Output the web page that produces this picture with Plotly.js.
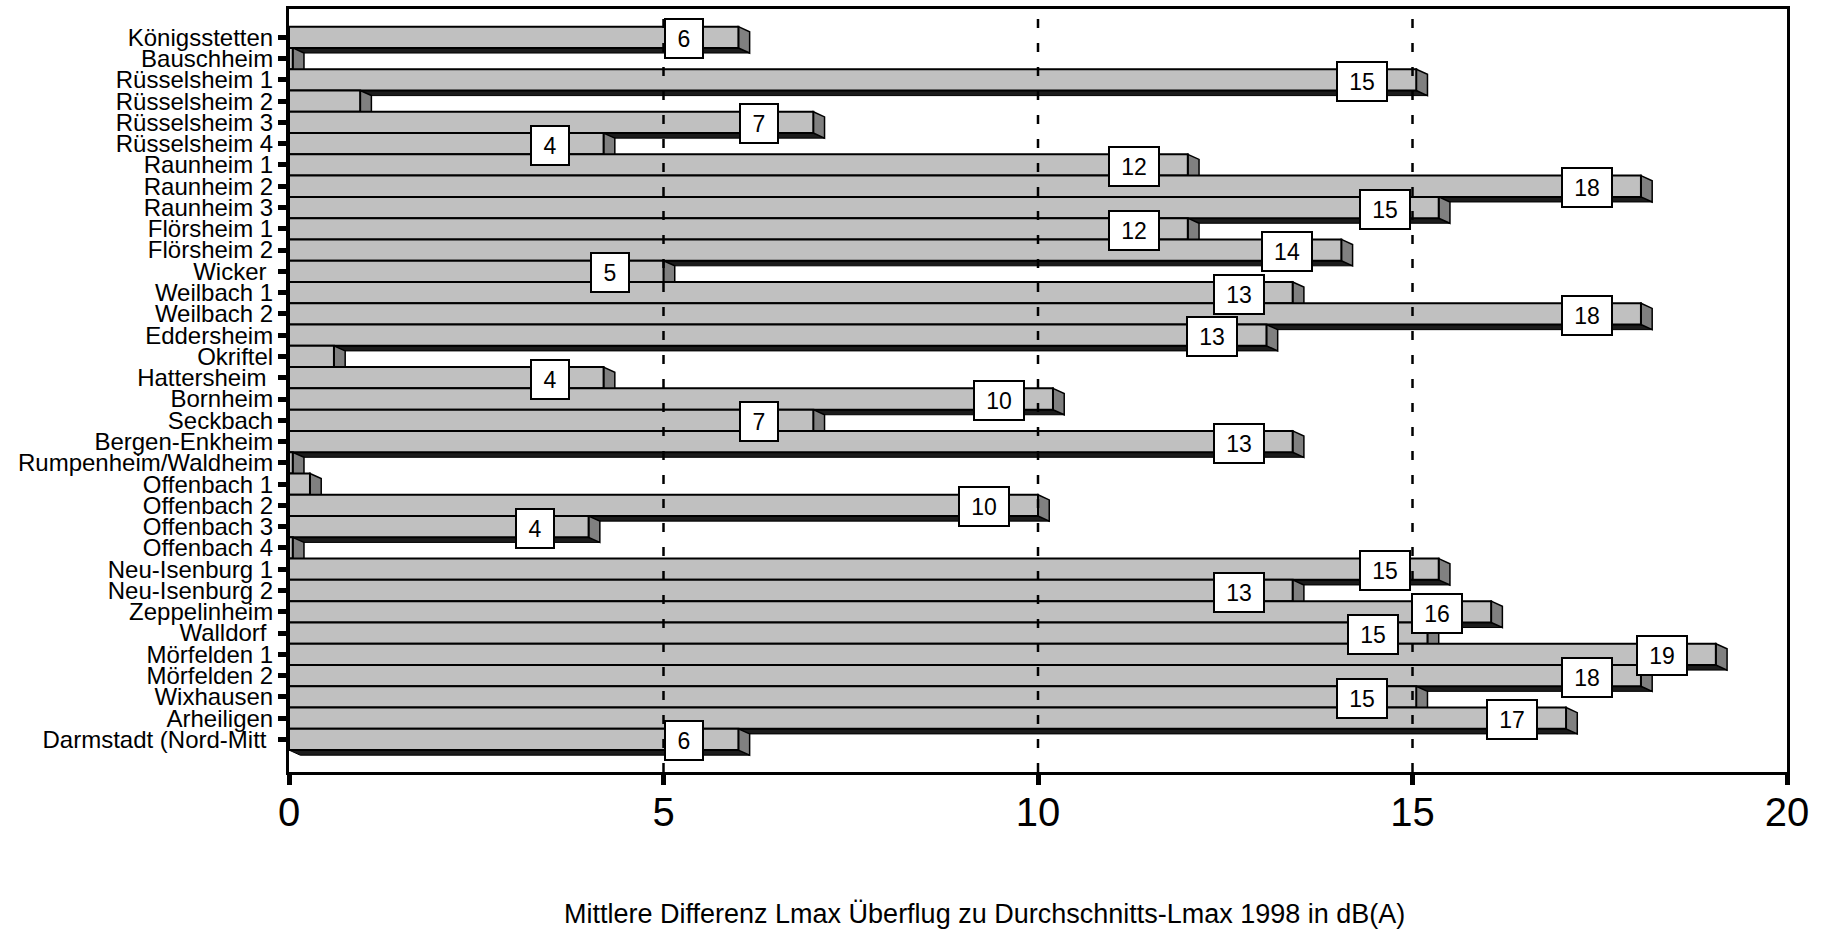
<!DOCTYPE html>
<html>
<head>
<meta charset="utf-8">
<script src="https://cdn.plot.ly/plotly-3.0.1.min.js"></script>
<style>
  html, body { margin: 0; padding: 0; background: #fff; }
  #chart { width: 1825px; height: 944px; }
</style>
</head>
<body>
<div id="chart"></div>
<script>
// Measuring stations, top to bottom
const stations = [
  'Königsstetten', 'Bauschheim', 'Rüsselsheim 1', 'Rüsselsheim 2', 'Rüsselsheim 3',
  'Rüsselsheim 4', 'Raunheim 1', 'Raunheim 2', 'Raunheim 3', 'Flörsheim 1',
  'Flörsheim 2', 'Wicker\u00a0', 'Weilbach 1', 'Weilbach 2', 'Eddersheim',
  'Okriftel', 'Hattersheim\u00a0', 'Bornheim', 'Seckbach', 'Bergen-Enkheim',
  'Rumpenheim/Waldheim', 'Offenbach 1', 'Offenbach 2', 'Offenbach 3', 'Offenbach 4',
  'Neu-Isenburg 1', 'Neu-Isenburg 2', 'Zeppelinheim', 'Walldorf\u00a0', 'Mörfelden 1',
  'Mörfelden 2', 'Wixhausen', 'Arheiligen', 'Darmstadt (Nord-Mitt\u00a0'
];

// Mean difference Lmax overflight vs. average Lmax 1998, dB(A)
const diffLmax = [
  6.0, 0.05, 15.05, 0.95, 7.0,
  4.2, 12.0, 18.05, 15.35, 12.0,
  14.05, 5.0, 13.4, 18.05, 13.05,
  0.6, 4.2, 10.2, 7.0, 13.4,
  0.05, 0.28, 10.0, 4.0, 0.05,
  15.35, 13.4, 16.05, 15.2, 19.05,
  18.05, 15.05, 17.05, 6.0
];

// Value axis ticks and dashed reference lines
const xTicks = [0, 5, 10, 15, 20];
const refLines = [5, 10, 15];
const labelMin = 2;   // smaller bars carry no value box

const axisTitle = 'Mittlere Differenz Lmax Überflug zu Durchschnitts-Lmax 1998 in dB(A)';

const FONT = 'Liberation Sans, Arial, sans-serif';
const rows = stations.map((_, i) => i);

// depth of the pseudo-3D bars, in axis units
const depthX = 0.15;
const depthY = 0.24;

const shapes = [];
diffLmax.forEach((v, i) => {
  const top = i - 0.5, bot = i + 0.5;
  // underside of the bar
  shapes.push({
    type: 'path', xref: 'x', yref: 'y', layer: 'below',
    path: `M 0,${bot} L ${v},${bot} L ${v + depthX},${bot + depthY} L ${depthX},${bot + depthY} Z`,
    fillcolor: '#1c1c1c', line: { color: '#000', width: 1 }
  });
  // right end face
  shapes.push({
    type: 'path', xref: 'x', yref: 'y', layer: 'below',
    path: `M ${v},${top} L ${v + depthX},${top + depthY} L ${v + depthX},${bot + depthY} L ${v},${bot} Z`,
    fillcolor: '#808080', line: { color: '#000', width: 1.5 }
  });
});

// dashed reference lines drawn over the bars
refLines.forEach(x => {
  shapes.push({
    type: 'line', xref: 'x', yref: 'paper', layer: 'above',
    x0: x, x1: x, y0: 0, y1: 1,
    line: { color: '#000', width: 2.5, dash: '9px,15px' }
  });
});

// value boxes
const annotations = [];
diffLmax.forEach((v, i) => {
  if (v < labelMin) return;
  const txt = String(Math.round(v));
  annotations.push({
    x: v, y: i, xref: 'x', yref: 'y',
    text: txt, showarrow: false,
    xanchor: 'center', yanchor: 'middle',
    xshift: -54, yshift: -1.5,
    width: txt.length === 1 ? 36 : 48, height: 37,
    bgcolor: '#fff', bordercolor: '#000', borderwidth: 2, borderpad: 0,
    font: { family: FONT, size: 23, color: '#000' }
  });
});

annotations.push({
  xref: 'paper', yref: 'paper', x: 0.4643, y: -0.186,
  xanchor: 'center', yanchor: 'middle', showarrow: false,
  text: axisTitle,
  font: { family: FONT, size: 27, color: '#000' }
});

const trace = {
  type: 'bar', orientation: 'h',
  x: diffLmax, y: rows, width: 1,
  marker: { color: '#c0c0c0', line: { color: '#000', width: 2 } },
  hoverinfo: 'skip'
};

const layout = {
  width: 1825, height: 944,
  margin: { l: 289, r: 38, t: 9, b: 172 },
  paper_bgcolor: '#fff', plot_bgcolor: '#fff',
  showlegend: false,
  font: { family: FONT, color: '#000' },
  xaxis: {
    range: [0, 20], tickvals: xTicks, ticktext: xTicks.map(String),
    showgrid: false, zeroline: false,
    showline: true, linecolor: '#000', linewidth: 3, mirror: true,
    ticks: 'outside', ticklen: 10, tickwidth: 5, tickcolor: '#000',
    ticklabelstandoff: -7,
    tickfont: { family: FONT, size: 40, color: '#000' },
    automargin: false
  },
  yaxis: {
    range: [34.53, -1.33], tickvals: rows, ticktext: stations,
    showgrid: false, zeroline: false,
    showline: true, linecolor: '#000', linewidth: 3, mirror: true,
    ticks: 'outside', ticklen: 8, tickwidth: 5, tickcolor: '#000',
    tickfont: { family: FONT, size: 24, color: '#000' },
    automargin: false
  },
  shapes: shapes,
  annotations: annotations
};

Plotly.newPlot('chart', [trace], layout, { staticPlot: true, displayModeBar: false });
</script>
</body>
</html>
